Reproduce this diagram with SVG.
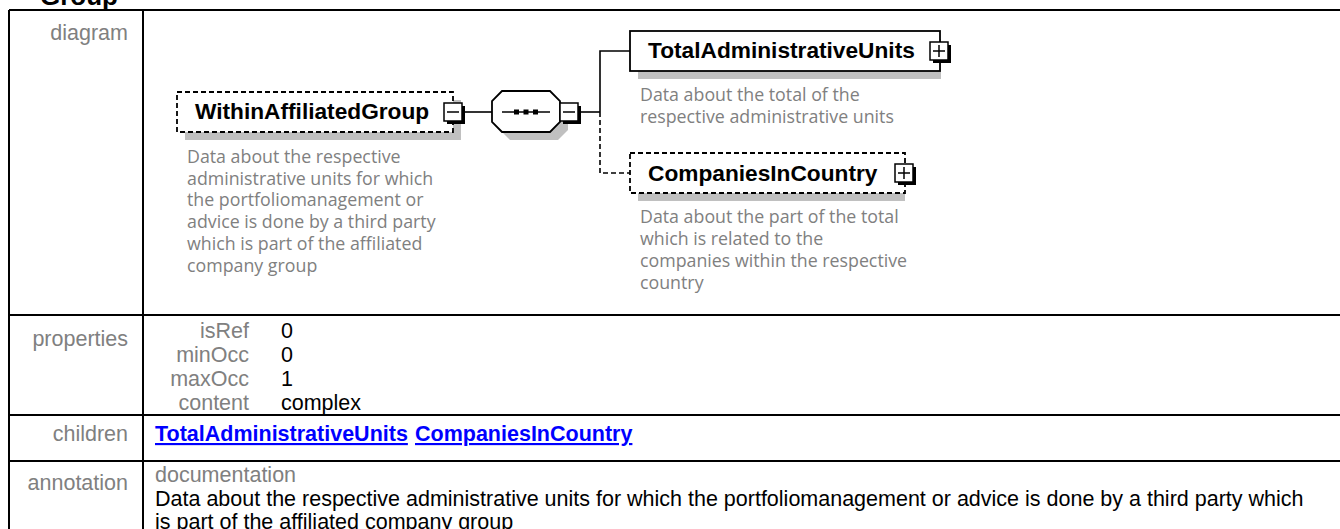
<svg xmlns="http://www.w3.org/2000/svg" width="1340" height="529" viewBox="0 0 1340 529">
<style>
.tbl{stroke:#000;stroke-width:2;fill:none}
.lbl{font-family:"Liberation Sans",Arial,sans-serif;font-size:21.5px;fill:#808080}
.val{font-family:"Liberation Sans",Arial,sans-serif;font-size:21.5px;fill:#000}
.lnk{font-family:"Liberation Sans",Arial,sans-serif;font-size:21.5px;font-weight:bold;fill:#0000ff;text-decoration:underline}
.title{font-family:"Liberation Sans",Arial,sans-serif;font-size:26px;font-weight:bold;fill:#000}
.name{font-family:"Liberation Sans",Arial,sans-serif;font-size:22.7px;font-weight:bold;fill:#000}
.desc{font-family:"Open Sans","Noto Sans",sans-serif;font-size:17.8px;fill:#808080}
.shadow{fill:#c0c0c0}
.box{fill:#fff;stroke:#000;stroke-width:1.8}
.dbox{fill:#fff;stroke:#000;stroke-width:1.8;stroke-dasharray:5 3}
.con{stroke:#000;stroke-width:1.6;fill:none}
.dcon{stroke:#000;stroke-width:1.6;fill:none;stroke-dasharray:5 3}
</style>
<defs>
<g id="minus">
<rect x="3" y="3" width="18" height="18" fill="#000"/>
<rect x="0" y="0" width="18" height="18" fill="#fff" stroke="#000" stroke-width="1.5"/>
<line x1="3" y1="9" x2="15" y2="9" stroke="#000" stroke-width="1.5"/>
</g>
<g id="plus">
<rect x="3" y="3" width="18" height="18" fill="#000"/>
<rect x="0" y="0" width="18" height="18" fill="#fff" stroke="#000" stroke-width="1.5"/>
<line x1="3" y1="9" x2="15" y2="9" stroke="#000" stroke-width="1.5"/>
<line x1="9" y1="3" x2="9" y2="15" stroke="#000" stroke-width="1.5"/>
</g>
</defs>
<rect width="1340" height="529" fill="#fff"/>
<text class="title" x="40" y="5">Group</text>
<g id="table">
<line class="tbl" x1="9" y1="10" x2="1340" y2="10"/>
<line class="tbl" x1="9" y1="10" x2="9" y2="529"/>
<line class="tbl" x1="143" y1="10" x2="143" y2="529"/>
<line class="tbl" x1="9" y1="315" x2="1340" y2="315"/>
<line class="tbl" x1="9" y1="415" x2="1340" y2="415"/>
<line class="tbl" x1="9" y1="461" x2="1340" y2="461"/>
<text class="lbl" x="128" y="40" text-anchor="end">diagram</text>
<text class="lbl" x="128" y="346" text-anchor="end">properties</text>
<text class="lbl" x="249" y="338" text-anchor="end">isRef</text>
<text class="lbl" x="249" y="362" text-anchor="end">minOcc</text>
<text class="lbl" x="249" y="386" text-anchor="end">maxOcc</text>
<text class="lbl" x="249" y="410" text-anchor="end">content</text>
<text class="val" x="281" y="338">0</text>
<text class="val" x="281" y="362">0</text>
<text class="val" x="281" y="386">1</text>
<text class="val" x="281" y="410">complex</text>
<text class="lbl" x="128" y="441" text-anchor="end">children</text>
<text class="lnk" x="155" y="441">TotalAdministrativeUnits</text>
<text class="lnk" x="415" y="441">CompaniesInCountry</text>
<text class="lbl" x="128" y="490" text-anchor="end">annotation</text>
<text class="lbl" x="155" y="482">documentation</text>
<text class="val" x="155" y="506">Data about the respective administrative units for which the portfoliomanagement or advice is done by a third party which</text>
<text class="val" x="155" y="529">is part of the affiliated company group</text>
</g>
<g id="connectors">
<line class="con" x1="464" y1="112" x2="492" y2="112"/>
<line class="con" x1="581" y1="112" x2="600" y2="112"/>
<polyline class="con" points="600,112 600,51 630,51"/>
<polyline class="dcon" points="600,112 600,173 630,173"/>
</g>
<g id="WithinAffiliatedGroup">
<rect class="shadow" x="185" y="100" width="276" height="40"/>
<rect class="dbox" x="177" y="92" width="276" height="40"/>
<text class="name" x="195" y="119">WithinAffiliatedGroup</text>
<use href="#minus" x="444" y="103"/>
<text class="desc">
<tspan x="187" y="163">Data about the respective</tspan>
<tspan x="187" y="184.7">administrative units for which</tspan>
<tspan x="187" y="206.4">the portfoliomanagement or</tspan>
<tspan x="187" y="228.1">advice is done by a third party</tspan>
<tspan x="187" y="249.8">which is part of the affiliated</tspan>
<tspan x="187" y="271.5">company group</tspan>
</text>
</g>
<g id="sequence">
<polygon class="shadow" points="510,99 558,99 568,109 568,130 558,140 510,140 500,130 500,109"/>
<polygon class="box" points="502,91 550,91 560,101 560,122 550,132 502,132 492,122 492,101"/>
<line x1="502" y1="112" x2="550" y2="112" stroke="#000" stroke-width="1.5"/>
<rect x="514" y="109.5" width="5" height="5" fill="#000"/>
<rect x="523.5" y="109.5" width="5" height="5" fill="#000"/>
<rect x="533" y="109.5" width="5" height="5" fill="#000"/>
<use href="#minus" x="560" y="103"/>
</g>
<g id="TotalAdministrativeUnits">
<rect class="shadow" x="638" y="39" width="303" height="40"/>
<rect class="box" x="630" y="31" width="310" height="40"/>
<text class="name" x="648" y="58">TotalAdministrativeUnits</text>
<use href="#plus" x="930" y="42"/>
<text class="desc">
<tspan x="640" y="101">Data about the total of the</tspan>
<tspan x="640" y="123">respective administrative units</tspan>
</text>
</g>
<g id="CompaniesInCountry">
<rect class="shadow" x="638" y="161" width="267" height="40"/>
<rect class="dbox" x="630" y="153" width="275" height="40"/>
<text class="name" x="648" y="181">CompaniesInCountry</text>
<use href="#plus" x="895" y="164"/>
<text class="desc">
<tspan x="640" y="223">Data about the part of the total</tspan>
<tspan x="640" y="245">which is related to the</tspan>
<tspan x="640" y="267">companies within the respective</tspan>
<tspan x="640" y="289">country</tspan>
</text>
</g>
</svg>
